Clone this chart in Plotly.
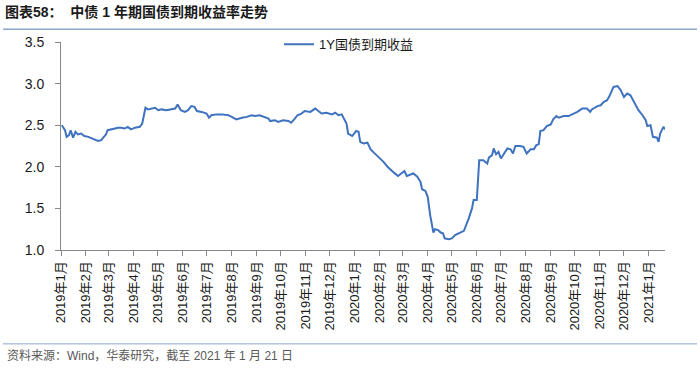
import plotly.graph_objects as go
import pandas as pd

dates = [
    "2019-01-02", "2019-01-06", "2019-01-08", "2019-01-11", "2019-01-13", "2019-01-16", "2019-01-19", "2019-01-22",
    "2019-01-26", "2019-01-30", "2019-02-04", "2019-02-08", "2019-02-12", "2019-02-16", "2019-02-20", "2019-02-23",
    "2019-02-26", "2019-02-28", "2019-03-07", "2019-03-13", "2019-03-17", "2019-03-21", "2019-03-25", "2019-03-29",
    "2019-04-03", "2019-04-09", "2019-04-12", "2019-04-14", "2019-04-16", "2019-04-19", "2019-04-24", "2019-04-28",
    "2019-05-02", "2019-05-06", "2019-05-12", "2019-05-18", "2019-05-23", "2019-05-26", "2019-05-30", "2019-06-04",
    "2019-06-08", "2019-06-12", "2019-06-16", "2019-06-19", "2019-06-25", "2019-07-01", "2019-07-04", "2019-07-07",
    "2019-07-13", "2019-07-20", "2019-07-28", "2019-08-03", "2019-08-07", "2019-08-14", "2019-08-20", "2019-08-26",
    "2019-08-30", "2019-09-05", "2019-09-10", "2019-09-16", "2019-09-18", "2019-09-24", "2019-09-28", "2019-10-04",
    "2019-10-11", "2019-10-14", "2019-10-18", "2019-10-22", "2019-10-27", "2019-10-31", "2019-11-07", "2019-11-13",
    "2019-11-17", "2019-11-21", "2019-11-27", "2019-12-04", "2019-12-08", "2019-12-12", "2019-12-16", "2019-12-19",
    "2019-12-22", "2019-12-24", "2019-12-29", "2020-01-03", "2020-01-06", "2020-01-08", "2020-01-12", "2020-01-17",
    "2020-01-21", "2020-01-25", "2020-01-31", "2020-02-06", "2020-02-11", "2020-02-15", "2020-02-19", "2020-02-24",
    "2020-02-28", "2020-03-03", "2020-03-06", "2020-03-10", "2020-03-14", "2020-03-19", "2020-03-23", "2020-03-25",
    "2020-03-29", "2020-04-01", "2020-04-04", "2020-04-08", "2020-04-10", "2020-04-14", "2020-04-17", "2020-04-20",
    "2020-04-22", "2020-04-27", "2020-05-01", "2020-05-05", "2020-05-10", "2020-05-16", "2020-05-22", "2020-05-26",
    "2020-05-28", "2020-06-01", "2020-06-04", "2020-06-09", "2020-06-14", "2020-06-16", "2020-06-20", "2020-06-22",
    "2020-06-25", "2020-06-28", "2020-07-01", "2020-07-04", "2020-07-09", "2020-07-13", "2020-07-16", "2020-07-19",
    "2020-07-25", "2020-07-29", "2020-08-02", "2020-08-07", "2020-08-11", "2020-08-14", "2020-08-17", "2020-08-19",
    "2020-08-23", "2020-08-27", "2020-09-01", "2020-09-04", "2020-09-08", "2020-09-11", "2020-09-17", "2020-09-23",
    "2020-09-28", "2020-10-04", "2020-10-10", "2020-10-16", "2020-10-20", "2020-10-22", "2020-10-29", "2020-11-02",
    "2020-11-06", "2020-11-10", "2020-11-13", "2020-11-18", "2020-11-23", "2020-11-27", "2020-12-01", "2020-12-05",
    "2020-12-09", "2020-12-12", "2020-12-15", "2020-12-19", "2020-12-24", "2020-12-28", "2020-12-30", "2021-01-03",
    "2021-01-06", "2021-01-11", "2021-01-13", "2021-01-15", "2021-01-19", "2021-01-21",
]

yield_1y = [
    2.50, 2.44, 2.36, 2.38, 2.44, 2.35, 2.42, 2.39,
    2.40, 2.37, 2.36, 2.34, 2.32, 2.31, 2.32, 2.36,
    2.39, 2.44, 2.46, 2.47, 2.47, 2.46, 2.48, 2.45,
    2.47, 2.48, 2.52, 2.62, 2.71, 2.69, 2.70, 2.71,
    2.68, 2.69, 2.68, 2.69, 2.70, 2.75, 2.68, 2.66,
    2.68, 2.73, 2.72, 2.67, 2.66, 2.64, 2.59, 2.62,
    2.63, 2.63, 2.62, 2.59, 2.57, 2.59, 2.60, 2.62,
    2.61, 2.62, 2.60, 2.58, 2.55, 2.56, 2.54, 2.56,
    2.55, 2.53, 2.57, 2.62, 2.64, 2.67, 2.66, 2.70,
    2.67, 2.64, 2.65, 2.63, 2.65, 2.62, 2.63, 2.58,
    2.52, 2.40, 2.37, 2.43, 2.42, 2.30, 2.28, 2.29,
    2.21, 2.17, 2.12, 2.06, 2.00, 1.96, 1.93, 1.89,
    1.92, 1.95, 1.89, 1.91, 1.92, 1.88, 1.82, 1.73,
    1.71, 1.64, 1.42, 1.21, 1.25, 1.24, 1.21, 1.20,
    1.14, 1.13, 1.14, 1.18, 1.20, 1.23, 1.38, 1.50,
    1.60, 1.60, 2.08, 2.08, 2.04, 2.11, 2.14, 2.22,
    2.15, 2.18, 2.10, 2.14, 2.22, 2.21, 2.16, 2.25,
    2.25, 2.24, 2.16, 2.21, 2.21, 2.26, 2.27, 2.43,
    2.44, 2.49, 2.51, 2.57, 2.61, 2.59, 2.61, 2.61,
    2.63, 2.66, 2.70, 2.70, 2.66, 2.69, 2.73, 2.74,
    2.78, 2.80, 2.85, 2.96, 2.97, 2.92, 2.84, 2.88,
    2.86, 2.81, 2.76, 2.68, 2.62, 2.56, 2.49, 2.50,
    2.36, 2.35, 2.30, 2.40, 2.48, 2.45,
]

series_name = "1Y国债到期收益"
tick_labels = [
    "2019年1月", "2019年2月", "2019年3月", "2019年4月", "2019年5月", "2019年6月", "2019年7月",
    "2019年8月", "2019年9月", "2019年10月", "2019年11月", "2019年12月", "2020年1月", "2020年2月",
    "2020年3月", "2020年4月", "2020年5月", "2020年6月", "2020年7月", "2020年8月", "2020年9月",
    "2020年10月", "2020年11月", "2020年12月", "2021年1月",
]
y_ticks = [1.0, 1.5, 2.0, 2.5, 3.0, 3.5]
title_text = "<b>图表58：\u00a0\u00a0中债 1 年期国债到期收益率走势</b>"
source_text = "资料来源：Wind，华泰研究，截至 2021 年 1 月 21 日"

tick_dates = [d.strftime("%Y-%m-%d") for d in pd.date_range("2019-01-01", periods=len(tick_labels), freq="MS")]

FONT = "Liberation Sans, Arial, Noto Sans CJK SC, sans-serif"

fig = go.Figure()
fig.add_trace(go.Scatter(
    x=dates, y=yield_1y, mode="lines", name=series_name,
    line=dict(color="#3F72BF", width=2),
))

fig.update_layout(
    width=700, height=368, autosize=False,
    margin=dict(l=61, r=35, t=42, b=118, pad=0),
    paper_bgcolor="white", plot_bgcolor="white",
    font=dict(family=FONT, size=13, color="#1a1a1a"),
    showlegend=True,
    legend=dict(
        x=(279 - 61) / 604, xanchor="left",
        y=(250 - 29) / 208.3, yanchor="top",
        bgcolor="rgba(0,0,0,0)", font=dict(size=13, color="#1a1a1a"),
        itemwidth=30,
    ),
    xaxis=dict(
        type="date", range=["2019-01-01", "2021-01-21"],
        tickmode="array", tickvals=tick_dates, ticktext=tick_labels,
        tickangle=-90, ticks="outside", ticklen=5, tickcolor="#888888",
        showline=True, linecolor="#888888", linewidth=1,
        showgrid=False, zeroline=False,
        tickfont=dict(size=13, color="#1a1a1a"),
    ),
    yaxis=dict(
        range=[1.0, 3.5], tickmode="array", tickvals=y_ticks,
        ticktext=[f"{v:.1f}" for v in y_ticks],
        ticks="outside", ticklen=5, tickcolor="#888888",
        showline=True, linecolor="#888888", linewidth=1,
        showgrid=False, zeroline=False,
        tickfont=dict(size=14, color="#1a1a1a"),
        ticklabelstandoff=8,
    ),
    annotations=[
        dict(text=title_text, xref="paper", yref="paper",
             x=(3 - 61) / 604, y=(250 - 12) / 208.3, xanchor="left", yanchor="middle",
             showarrow=False, font=dict(size=14, color="#1a1a1a", family=FONT)),
        dict(text=source_text, xref="paper", yref="paper",
             x=(5 - 61) / 604, y=(250 - 356) / 208.3, xanchor="left", yanchor="middle",
             showarrow=False, font=dict(size=12, color="#595959", family=FONT)),
    ],
    shapes=[
        dict(type="line", xref="paper", yref="paper",
             x0=(3 - 61) / 604, x1=(697 - 61) / 604,
             y0=(250 - 29) / 208.3, y1=(250 - 29) / 208.3,
             line=dict(color="#8EA7CF", width=1.5)),
        dict(type="line", xref="paper", yref="paper",
             x0=(3 - 61) / 604, x1=(697 - 61) / 604,
             y0=(250 - 344) / 208.3, y1=(250 - 344) / 208.3,
             line=dict(color="#8EA7CF", width=1)),
    ],
)

fig.write_html(
    "out.html",
    config={"displayModeBar": False},
    post_script="document.body.style.margin='0';document.body.style.overflow='hidden';",
)
